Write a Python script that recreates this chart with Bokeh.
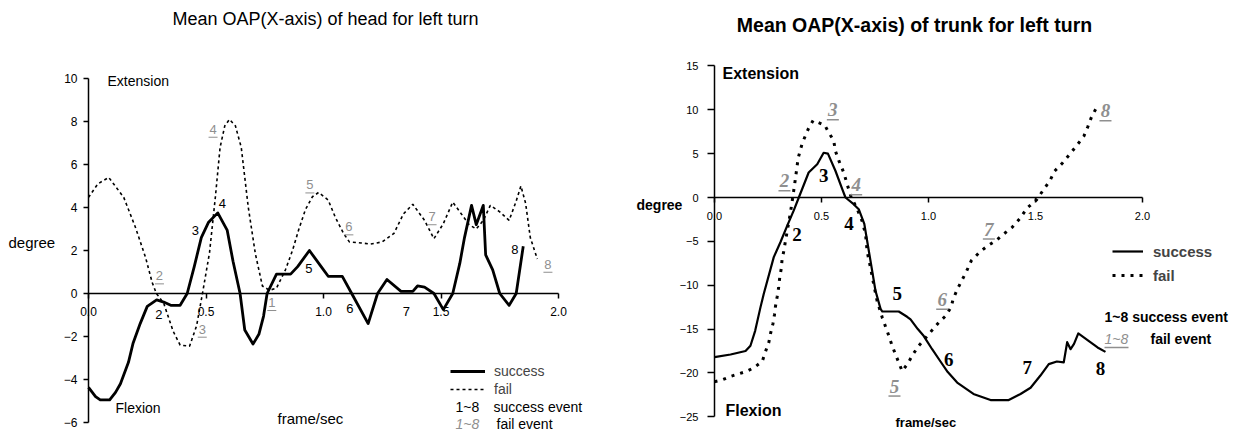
from bokeh.plotting import figure
from bokeh.models import (Range1d, LinearAxis, FixedTicker, Label, Legend, LegendItem,
                          NumeralTickFormatter)
from bokeh.layouts import row
from bokeh.embed import file_html
from bokeh.resources import INLINE
from bokeh.core.properties import value

# ---------------- data: head (left chart) ----------------
head_success_x = [0.0, 0.03, 0.05, 0.09, 0.115, 0.136, 0.17, 0.19, 0.22, 0.25, 0.29, 0.32, 0.35,
                  0.39, 0.42, 0.45, 0.48, 0.51, 0.55, 0.59, 0.615, 0.645, 0.665, 0.70, 0.725,
                  0.745, 0.76, 0.80, 0.86, 0.89, 0.94, 0.99, 1.02, 1.08, 1.12, 1.19, 1.23, 1.27,
                  1.33, 1.38, 1.40, 1.43, 1.47, 1.51, 1.55, 1.58, 1.60, 1.63, 1.65, 1.68, 1.69,
                  1.72, 1.75, 1.79, 1.82, 1.85]
head_success_y = [-4.37, -4.8, -4.95, -4.95, -4.6, -4.2, -3.2, -2.3, -1.4, -0.6, -0.3, -0.4, -0.55,
                  -0.55, 0.0, 1.25, 2.6, 3.3, 3.75, 2.95, 1.5, 0.0, -1.7, -2.35, -1.9,
                  -1.05, 0.0, 0.9, 0.9, 1.25, 2.0, 1.25, 0.8, 0.8, 0.0, -1.4, 0.0, 0.65,
                  0.1, 0.1, 0.35, 0.3, 0.0, -0.75, 0.0, 1.4, 2.6, 4.1, 3.2, 4.1, 1.8,
                  1.1, 0.0, -0.55, 0.0, 2.2]

head_fail_x = [0.0, 0.04, 0.086, 0.15, 0.20, 0.243, 0.271, 0.289, 0.32, 0.36, 0.39, 0.43, 0.46,
               0.485, 0.515, 0.54, 0.56, 0.58, 0.60, 0.625, 0.65, 0.68, 0.71, 0.74, 0.77, 0.80,
               0.838, 0.868, 0.894, 0.923, 0.953, 0.979, 1.02, 1.05, 1.085, 1.11, 1.16, 1.20,
               1.25, 1.30, 1.34, 1.38, 1.43, 1.47, 1.51, 1.55, 1.58, 1.62, 1.65, 1.68, 1.71,
               1.75, 1.79, 1.82, 1.84, 1.86, 1.88, 1.91]
head_fail_y = [4.47, 5.1, 5.4, 4.47, 3.07, 1.67, 0.51, 0.0, -0.45, -1.75, -2.4, -2.45, -1.5,
               0.0, 1.9, 4.5, 6.8, 7.8, 8.1, 7.8, 6.8, 4.0, 1.85, 0.35, 0.15, 0.25,
               1.1, 2.0, 2.95, 3.9, 4.5, 4.7, 4.35, 3.55, 2.8, 2.4, 2.35, 2.3,
               2.4, 2.8, 3.7, 4.15, 3.4, 2.55, 3.25, 4.25, 3.8, 3.2, 3.0, 3.4, 4.1,
               3.8, 3.4, 4.3, 5.0, 4.2, 2.6, 1.6]

head_succ_lab = ["2", "3", "4", "5", "6", "7", "8"]
head_succ_lab_x = [0.299, 0.455, 0.57, 0.938, 1.112, 1.353, 1.814]
head_succ_lab_y = [-0.96, 2.93, 4.19, 1.18, -0.7, -0.85, 2.06]

head_fail_lab = ["1", "2", "3", "4", "5", "6", "7", "8"]
head_fail_lab_x = [0.78, 0.302, 0.484, 0.53, 0.942, 1.108, 1.462, 1.955]
head_fail_lab_y = [-0.42, 0.82, -1.66, 7.64, 5.05, 3.1, 3.57, 1.36]

head_yticks = [-6, -4, -2, 0, 2, 4, 6, 8, 10]
xticks = [0.0, 0.5, 1.0, 1.5, 2.0]

# ---------------- data: trunk (right chart) ----------------
trunk_success_x = [0.0, 0.075, 0.145, 0.168, 0.19, 0.215, 0.23, 0.277, 0.308, 0.34, 0.37, 0.394,
                   0.44, 0.48, 0.51, 0.53, 0.565, 0.597, 0.612, 0.65, 0.674, 0.70, 0.713, 0.737,
                   0.752, 0.776, 0.784, 0.861, 0.90, 0.916, 0.95, 0.978, 1.017, 1.056, 1.09,
                   1.134, 1.21, 1.29, 1.375, 1.43, 1.477, 1.523, 1.562, 1.60, 1.632, 1.648,
                   1.664, 1.68, 1.70, 1.74, 1.79, 1.827]
trunk_success_y = [-18.2, -17.9, -17.5, -16.9, -15.2, -12.5, -11.0, -6.8, -5.1, -3.2, -1.5, 0.0,
                   2.85, 3.8, 5.1, 5.0, 3.05, 0.95, 0.0, -0.76, -1.33, -3.0, -4.9, -8.4,
                   -10.6, -12.7, -13.0, -13.0, -13.6, -13.9, -15.0, -15.8, -17.3, -18.7, -19.9,
                   -21.1, -22.4, -23.1, -23.1, -22.4, -21.7, -20.3, -19.0, -18.7, -18.8, -16.5,
                   -17.3, -16.7, -15.5, -16.2, -17.1, -17.6]

trunk_fail_x = [0.0, 0.036, 0.075, 0.114, 0.153, 0.184, 0.223, 0.238, 0.254, 0.262, 0.273, 0.28,
                0.285, 0.293, 0.30, 0.305, 0.312, 0.316, 0.324, 0.332, 0.34, 0.355, 0.368, 0.379,
                0.391, 0.41, 0.438, 0.461, 0.50, 0.514, 0.534, 0.557, 0.565, 0.581, 0.604, 0.62,
                0.639, 0.665, 0.69, 0.706, 0.713, 0.729, 0.744, 0.76, 0.784, 0.799, 0.815, 0.83,
                0.846, 0.877, 0.904, 0.927, 0.955, 0.99, 1.025, 1.05, 1.08, 1.106, 1.115, 1.134,
                1.157, 1.178, 1.20, 1.24, 1.277, 1.316, 1.349, 1.391, 1.427, 1.461, 1.505, 1.536,
                1.567, 1.589, 1.625, 1.659, 1.695, 1.726, 1.745, 1.762, 1.784]
trunk_fail_y = [-21.0, -20.8, -20.4, -20.1, -19.8, -19.4, -18.7, -17.6, -16.5, -15.5, -14.4, -13.4,
                -12.4, -11.3, -10.2, -9.1, -8.1, -7.0, -6.1, -4.9, -3.8, -1.7, 0.4, 2.3,
                4.5, 6.2, 7.8, 8.8, 8.4, 8.3, 7.4, 6.5, 5.3, 4.2, 2.85, 1.5,
                0.0, -1.2, -2.7, -4.2, -6.1, -8.0, -9.9, -11.8, -13.7, -14.7, -15.8, -16.9,
                -17.9, -19.8, -18.9, -17.9, -16.9, -15.9, -14.9, -14.2, -13.5, -12.5, -11.6, -10.5,
                -9.4, -8.4, -7.2, -6.2, -5.5, -4.9, -4.2, -3.4, -2.4, -1.2, -0.27, 0.84,
                1.9, 3.0, 3.9, 4.9, 6.0, 7.0, 8.1, 9.2, 10.2]

trunk_succ_lab = ["2", "3", "4", "5", "6", "7", "8"]
trunk_succ_lab_x = [0.386, 0.51, 0.628, 0.854, 1.095, 1.461, 1.804]
trunk_succ_lab_y = [-4.2, 2.5, -3.0, -11.0, -18.5, -19.4, -19.5]

trunk_fail_lab = ["2", "3", "4", "5", "6", "7", "8"]
trunk_fail_lab_x = [0.327, 0.553, 0.662, 0.841, 1.064, 1.282, 1.827]
trunk_fail_lab_y = [1.9, 10.0, 1.45, -21.5, -11.6, -3.6, 9.9]

trunk_yticks = [-25, -20, -15, -10, -5, 0, 5, 10, 15]

# ---------------- styling helpers ----------------
SANS = "Liberation Sans"
SERIF = "Liberation Serif"
GRAY = "#8f8f8f"
H = 431
YOFF = 3   # page pixel = reference pixel - YOFF


def make_fig(width, xr, yr):
    p = figure(width=width, height=H, x_range=Range1d(*xr), y_range=Range1d(*yr),
               output_backend="svg", toolbar_location=None, min_border=0,
               x_axis_location=None, y_axis_location=None, outline_line_color=None,
               background_fill_color="white", border_fill_color="white")
    p.grid.visible = False
    return p


def style_axis(ax, ticks, size, fmt=None, lw=1.5, tick=5, standoff=5):
    ax.ticker = FixedTicker(ticks=ticks)
    ax.fixed_location = 0
    ax.axis_line_width = lw
    ax.axis_line_color = "black"
    ax.major_tick_line_width = lw
    ax.major_tick_out = tick
    ax.major_tick_in = 0
    ax.minor_tick_out = 0
    ax.minor_tick_in = 0
    ax.major_label_text_font = SANS
    ax.major_label_text_font_size = size
    ax.major_label_text_color = "black"
    ax.major_label_standoff = standoff
    if fmt is not None:
        ax.formatter = fmt


def add_label(p, ox, px, py, text, size, style="normal", color="black",
              align="left", font=SANS):
    p.add_layout(Label(x=px - ox, y=H - (py - YOFF), x_units="screen", y_units="screen",
                       text=text, text_font=font, text_font_size=size, text_font_style=style,
                       text_color=color, text_align=align, text_baseline="middle"))


# ================= left chart (head) =================
OX1 = 0
W1 = 620
px_per_x1 = 235.0
px_per_y1 = 21.5
xr1 = ((OX1 - 88) / px_per_x1, (OX1 - 88) / px_per_x1 + W1 / px_per_x1)
yt1 = (296 - YOFF) / px_per_y1
yr1 = (yt1 - H / px_per_y1, yt1)
p1 = make_fig(W1, xr1, yr1)

xa1 = LinearAxis(bounds=(0, 2))
style_axis(xa1, xticks, "12px", NumeralTickFormatter(format="0.0"), standoff=8)
ya1 = LinearAxis(bounds=(-6, 10))
style_axis(ya1, head_yticks, "12px", standoff=6)
p1.add_layout(xa1, "below")
p1.add_layout(ya1, "left")

rs1 = p1.line(head_success_x, head_success_y, line_color="black", line_width=2.8,
              line_join="round")
rf1 = p1.line(head_fail_x, head_fail_y, line_color="black", line_width=1.6, line_dash="3 3")

p1.text(head_succ_lab_x, head_succ_lab_y, text=head_succ_lab, text_font=value(SANS),
        text_font_size="13px", text_color="black", text_align="center", text_baseline="middle")
p1.text(head_fail_lab_x, head_fail_lab_y, text=head_fail_lab, text_font=value(SANS),
        text_font_size="13px", text_color=GRAY, text_align="center", text_baseline="middle")
hw1 = 4.5 / px_per_x1
dy1 = 8 / px_per_y1
p1.segment([x - hw1 for x in head_fail_lab_x], [y - dy1 for y in head_fail_lab_y],
           [x + hw1 for x in head_fail_lab_x], [y - dy1 for y in head_fail_lab_y],
           line_color=GRAY, line_width=1)

add_label(p1, OX1, 325, 21, "Mean OAP(X-axis) of head for left turn", "18px", align="center")
add_label(p1, OX1, 107, 83, "Extension", "14px")
add_label(p1, OX1, 115, 410, "Flexion", "14px")
add_label(p1, OX1, 8, 245, "degree", "15px")
add_label(p1, OX1, 277, 421, "frame/sec", "15px")
add_label(p1, OX1, 455, 409, "1~8", "14px")
add_label(p1, OX1, 493, 409, "success  event", "14px")
add_label(p1, OX1, 455, 426, "1~8", "14px", style="italic", color=GRAY)
add_label(p1, OX1, 496, 426, "fail   event", "14px")

leg1 = Legend(items=[LegendItem(label="success", renderers=[rs1]),
                     LegendItem(label="fail", renderers=[rf1])],
              location=(450 - OX1, H - (401 - YOFF)), orientation="vertical",
              border_line_alpha=0, background_fill_alpha=0, padding=0, margin=0, spacing=0,
              glyph_width=35, glyph_height=18, label_height=18, label_standoff=9,
              label_text_font=SANS, label_text_font_size="14px")
p1.add_layout(leg1)

# ================= right chart (trunk) =================
OX2 = 620
W2 = 619
px_per_x2 = 214.0
px_per_y2 = 8.77
xr2 = ((OX2 - 714) / px_per_x2, (OX2 - 714) / px_per_x2 + W2 / px_per_x2)
yt2 = (200 - YOFF) / px_per_y2
yr2 = (yt2 - H / px_per_y2, yt2)
p2 = make_fig(W2, xr2, yr2)

xa2 = LinearAxis(bounds=(0, 2))
style_axis(xa2, xticks, "11px", NumeralTickFormatter(format="0.0"), standoff=9)
ya2 = LinearAxis(bounds=(-25, 15))
style_axis(ya2, trunk_yticks, "11px", tick=7, standoff=9)
p2.add_layout(xa2, "below")
p2.add_layout(ya2, "left")

rs2 = p2.line(trunk_success_x, trunk_success_y, line_color="black", line_width=2.2,
              line_join="round")
rf2 = p2.line(trunk_fail_x, trunk_fail_y, line_color="black", line_width=3, line_dash="3 6")

p2.text(trunk_succ_lab_x, trunk_succ_lab_y, text=trunk_succ_lab, text_font=value(SERIF),
        text_font_size="19px", text_font_style="bold", text_color="black",
        text_align="center", text_baseline="middle")
p2.text(trunk_fail_lab_x, trunk_fail_lab_y, text=trunk_fail_lab, text_font=value(SERIF),
        text_font_size="19px", text_font_style="bold italic", text_color=GRAY,
        text_align="center", text_baseline="middle")
hw2 = 6 / px_per_x2
dy2 = 10 / px_per_y2
p2.segment([x - hw2 for x in trunk_fail_lab_x], [y - dy2 for y in trunk_fail_lab_y],
           [x + hw2 for x in trunk_fail_lab_x], [y - dy2 for y in trunk_fail_lab_y],
           line_color=GRAY, line_width=1.5)

add_label(p2, OX2, 914, 27, "Mean OAP(X-axis) of trunk for left turn", "19.5px",
          style="bold", align="center")
add_label(p2, OX2, 722, 76, "Extension", "16px", style="bold")
add_label(p2, OX2, 725, 413, "Flexion", "16px", style="bold")
add_label(p2, OX2, 636, 207, "degree", "14px", style="bold")
add_label(p2, OX2, 895, 425, "frame/sec", "13px", style="bold")
add_label(p2, OX2, 1104, 319, "1~8  success event", "14px", style="bold")
add_label(p2, OX2, 1104, 341, "1~8", "14px", style="italic", color=GRAY)
add_label(p2, OX2, 1150, 341, "fail   event", "14px", style="bold")
p2.segment([(1104 - 714) / px_per_x2], [(200 - 350) / px_per_y2],
           [(1128 - 714) / px_per_x2], [(200 - 350) / px_per_y2],
           line_color=GRAY, line_width=1.5)

leg2 = Legend(items=[LegendItem(label="success", renderers=[rs2]),
                     LegendItem(label="fail", renderers=[rf2])],
              location=(1112 - OX2, H - (290 - YOFF)), orientation="vertical",
              border_line_alpha=0, background_fill_alpha=0, padding=0, margin=0, spacing=0,
              glyph_width=31, glyph_height=24, label_height=24, label_standoff=10,
              label_text_font=SANS, label_text_font_size="15px",
              label_text_font_style="bold")
p2.add_layout(leg2)

layout = row(p1, p2, spacing=0)
open("out.html", "w").write(file_html(layout, INLINE))
